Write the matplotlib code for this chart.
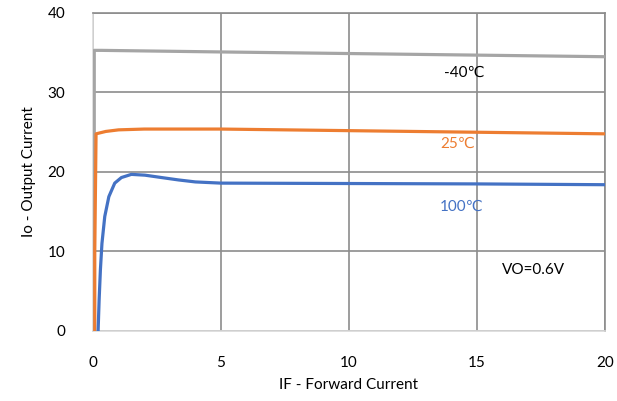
import matplotlib
matplotlib.use("Agg")
import matplotlib.pyplot as plt

plt.rcParams['font.family'] = ['Lato', 'DejaVu Sans']

# -40 C series
x_m40 = [0.05, 0.05, 0.3, 5, 10, 15, 20]
y_m40 = [0, 35.3, 35.3, 35.1, 34.9, 34.7, 34.5]
# 25 C series
x_25 = [0.07, 0.07, 0.12, 0.5, 1, 2, 5, 10, 15, 20]
y_25 = [0, 10, 24.8, 25.1, 25.3, 25.4, 25.4, 25.2, 25.0, 24.8]
# 100 C series
x_100 = [0.2, 0.24, 0.29, 0.35, 0.46, 0.62, 0.85, 1.11, 1.5, 2.03, 2.68, 3.34, 4.0, 5, 10, 15, 20]
y_100 = [0, 3.9, 7.7, 11.0, 14.4, 16.9, 18.6, 19.3, 19.7, 19.6, 19.3, 19.0, 18.75, 18.6, 18.55, 18.5, 18.4]

labels = ["-40℃", "25℃", "100℃"]
colors = ["#A5A5A5", "#ED7D31", "#4472C4"]

fig = plt.figure(figsize=(6.17, 4.01), dpi=100)
ax = fig.add_axes([0.1507, 0.1746, 0.8298, 0.793])

ax.plot(x_m40, y_m40, color=colors[0], lw=2.3, zorder=3, solid_joinstyle='round')
ax.plot(x_25, y_25, color=colors[1], lw=2.3, zorder=4, solid_joinstyle='round')
ax.plot(x_100, y_100, color=colors[2], lw=2.3, zorder=5, solid_joinstyle='round')

ax.set_xlim(0, 20)
ax.set_ylim(0, 40)
ax.set_xticks([0, 5, 10, 15, 20])
ax.set_yticks([0, 10, 20, 30, 40])
ax.grid(True, color="#8C8C8C", lw=1.2)
ax.set_axisbelow(True)
for s in ['top', 'right']:
    ax.spines[s].set_color("#8C8C8C")
    ax.spines[s].set_linewidth(1.2)
for s in ['left', 'bottom']:
    ax.spines[s].set_color("#D9D9D9")
    ax.spines[s].set_linewidth(1.2)
ax.tick_params(length=0, labelsize=11, colors="black")
ax.tick_params(axis='x', pad=18)
ax.tick_params(axis='y', pad=20)

ax.set_xlabel("IF - Forward Current", fontsize=11, labelpad=6)
ax.set_ylabel("Io - Output Current", fontsize=11, labelpad=8)

ax.text(14.5, 32.5, labels[0], color="black", fontsize=11, ha='center', va='center')
ax.text(14.26, 23.6, labels[1], color=colors[1], fontsize=11, ha='center', va='center')
ax.text(14.4, 15.6, labels[2], color=colors[2], fontsize=11, ha='center', va='center')
ax.text(17.2, 7.7, "VO=0.6V", color="black", fontsize=11, ha='center', va='center')

fig.savefig("out.png", dpi=100)
